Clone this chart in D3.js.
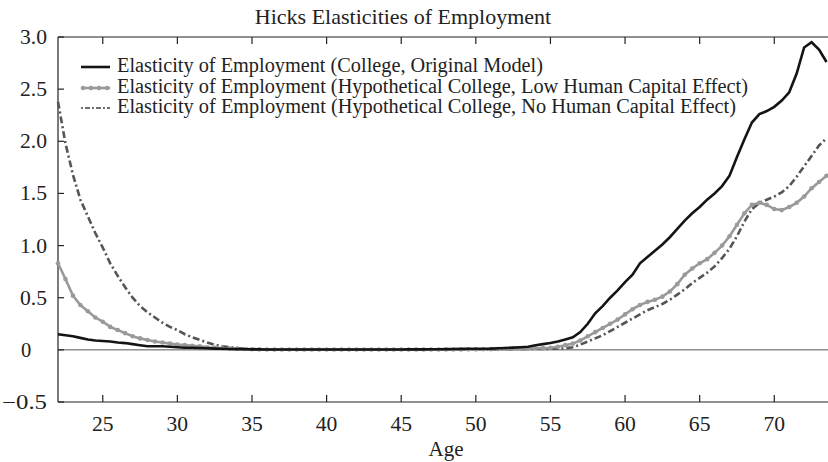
<!DOCTYPE html>
<html><head><meta charset="utf-8">
<script src="https://cdn.jsdelivr.net/npm/d3@7"></script>
<style>body{margin:0;background:#fff}svg{display:block}text{font-family:"Liberation Serif","Times New Roman",serif;fill:#222}</style>
</head><body><svg id="c" width="828" height="462"></svg>
<script>
const ages = [22,22.5,23,23.5,24,24.5,25,25.5,26,26.5,27,27.5,28,28.5,29,29.5,30,30.5,31,31.5,32,32.5,33,33.5,34,34.5,35,35.5,36,36.5,37,37.5,38,38.5,39,39.5,40,40.5,41,41.5,42,42.5,43,43.5,44,44.5,45,45.5,46,46.5,47,47.5,48,48.5,49,49.5,50,50.5,51,51.5,52,52.5,53,53.5,54,54.5,55,55.5,56,56.5,57,57.5,58,58.5,59,59.5,60,60.5,61,61.5,62,62.5,63,63.5,64,64.5,65,65.5,66,66.5,67,67.5,68,68.5,69,69.5,70,70.5,71,71.5,72,72.5,73,73.5];
const original = [0.15,0.14,0.13,0.115,0.10,0.09,0.085,0.08,0.07,0.065,0.055,0.045,0.035,0.035,0.035,0.03,0.025,0.02,0.02,0.018,0.015,0.012,0.01,0.008,0.007,0.006,0.005,0.005,0.004,0.004,0.004,0.004,0.004,0.004,0.004,0.004,0.004,0.004,0.004,0.004,0.004,0.004,0.004,0.004,0.004,0.004,0.004,0.005,0.005,0.005,0.006,0.006,0.007,0.008,0.009,0.01,0.01,0.011,0.012,0.015,0.018,0.021,0.025,0.03,0.045,0.055,0.065,0.08,0.10,0.12,0.17,0.25,0.35,0.42,0.50,0.57,0.65,0.72,0.83,0.89,0.95,1.01,1.08,1.16,1.24,1.31,1.37,1.44,1.50,1.57,1.67,1.85,2.02,2.18,2.26,2.29,2.33,2.39,2.47,2.65,2.90,2.95,2.88,2.76];
const lowHC = [0.83,0.68,0.52,0.43,0.37,0.31,0.27,0.22,0.19,0.16,0.13,0.11,0.095,0.08,0.07,0.06,0.05,0.045,0.04,0.035,0.025,0.02,0.015,0.012,0.01,0.008,0.006,0.005,0.004,0.004,0.003,0.003,0.003,0.003,0.003,0.003,0.003,0.003,0.003,0.003,0.003,0.003,0.003,0.003,0.003,0.003,0.003,0.003,0.003,0.003,0.003,0.003,0.004,0.004,0.004,0.005,0.005,0.006,0.007,0.008,0.01,0.011,0.012,0.013,0.015,0.017,0.02,0.03,0.045,0.06,0.09,0.13,0.17,0.21,0.25,0.29,0.34,0.39,0.43,0.46,0.48,0.51,0.56,0.63,0.72,0.78,0.83,0.87,0.93,1.00,1.09,1.20,1.31,1.39,1.41,1.39,1.35,1.34,1.37,1.41,1.47,1.55,1.61,1.67];
const noHC = [2.38,1.98,1.68,1.44,1.28,1.12,0.98,0.83,0.71,0.60,0.50,0.42,0.36,0.31,0.26,0.22,0.19,0.15,0.12,0.095,0.07,0.05,0.035,0.025,0.018,0.012,0.008,0.006,0.005,0.004,0.003,0.003,0.003,0.003,0.003,0.003,0.003,0.003,0.003,0.003,0.003,0.003,0.003,0.003,0.003,0.003,0.003,0.003,0.003,0.003,0.003,0.003,0.003,0.003,0.004,0.004,0.004,0.005,0.005,0.005,0.006,0.006,0.007,0.008,0.008,0.009,0.01,0.012,0.015,0.025,0.05,0.08,0.11,0.14,0.18,0.22,0.26,0.30,0.34,0.38,0.41,0.44,0.48,0.53,0.58,0.64,0.69,0.74,0.80,0.88,0.97,1.09,1.23,1.35,1.41,1.44,1.47,1.51,1.57,1.66,1.76,1.86,1.96,2.03];
const xTicks = [25,30,35,40,45,50,55,60,65,70];
const yTicks = [-0.5,0,0.5,1.0,1.5,2.0,2.5,3.0];
const yTickLabels = ["\u22120.5","0","0.5","1.0","1.5","2.0","2.5","3.0"];
const seriesNames = ["Elasticity of Employment (College, Original Model)","Elasticity of Employment (Hypothetical College, Low Human Capital Effect)","Elasticity of Employment (Hypothetical College, No Human Capital Effect)"];
const title = "Hicks Elasticities of Employment";
const xTitle = "Age";

const svg = d3.select("#c");
const L=58, R=828, T=37, B=402;
const x = d3.scaleLinear().domain([22,73.6]).range([L,R]);
const y = d3.scaleLinear().domain([-0.5,3.0]).range([B,T]);
const DASH = "7,3,2,3";

svg.append("text").attr("x",403).attr("y",24).attr("text-anchor","middle").attr("font-size",22).text(title);

// zero line
svg.append("line").attr("x1",L).attr("x2",R).attr("y1",y(0)).attr("y2",y(0)).attr("stroke","#555").attr("stroke-width",1);

// axes
const ax = svg.append("g").attr("stroke","#222").attr("stroke-width",1.2);
ax.append("line").attr("x1",L).attr("x2",L).attr("y1",T).attr("y2",B);
ax.append("line").attr("x1",L).attr("x2",R).attr("y1",B).attr("y2",B);
ax.append("line").attr("x1",L).attr("x2",R).attr("y1",T).attr("y2",T);
xTicks.forEach(t=>{
  ax.append("line").attr("x1",x(t)).attr("x2",x(t)).attr("y1",B).attr("y2",B-7);
  ax.append("line").attr("x1",x(t)).attr("x2",x(t)).attr("y1",T).attr("y2",T+7);
});
yTicks.forEach(t=>{ ax.append("line").attr("x1",L).attr("x2",L+6).attr("y1",y(t)).attr("y2",y(t)); });
svg.append("g").selectAll("text").data(xTicks).join("text")
  .attr("x",d=>x(d)).attr("y",B+29).attr("text-anchor","middle").attr("font-size",20)
  .attr("transform",d=>`translate(${x(d)},0) scale(1.08,1) translate(${-x(d)},0)`).text(d=>d);
const yl = svg.append("g").selectAll("text").data(yTicks).join("text")
  .attr("y",d=>y(d)+7).attr("font-size",20.5).text((d,i)=>yTickLabels[i]);
yl.each(function(d){
  const t=d3.select(this);
  if(d===0){ t.attr("x",21).attr("text-anchor","start"); }
  else if(d<0){ t.attr("x",47).attr("text-anchor","end").attr("textLength",45).attr("lengthAdjust","spacingAndGlyphs"); }
  else { t.attr("x",47).attr("text-anchor","end").attr("textLength",27).attr("lengthAdjust","spacingAndGlyphs"); }
});
svg.append("text").attr("x",446).attr("y",456).attr("text-anchor","middle").attr("font-size",21).text(xTitle);

const line = d3.line().x((d,i)=>x(ages[i])).y(d=>y(d)).curve(d3.curveLinear);
const g = svg.append("g");
g.append("path").attr("d",line(noHC)).attr("fill","none").attr("stroke","#555").attr("stroke-width",2.6).attr("stroke-dasharray",DASH);
g.append("path").attr("d",line(lowHC)).attr("fill","none").attr("stroke","#9a9a9a").attr("stroke-width",2.6);
g.append("g").selectAll("circle").data(lowHC).join("circle").attr("cx",(d,i)=>x(ages[i])).attr("cy",d=>y(d)).attr("r",2.3).attr("fill","#9a9a9a");
g.append("path").attr("d",line(original)).attr("fill","none").attr("stroke","#141414").attr("stroke-width",2.6);

// legend
const leg = svg.append("g");
const ly=[67,88,108];
const lw=[426,631,619];
leg.append("line").attr("x1",81).attr("x2",110).attr("y1",ly[0]).attr("y2",ly[0]).attr("stroke","#141414").attr("stroke-width",2.6);
leg.append("line").attr("x1",81).attr("x2",110).attr("y1",ly[1]).attr("y2",ly[1]).attr("stroke","#9a9a9a").attr("stroke-width",2.6);
[83,91,99,107].forEach(cx=>leg.append("circle").attr("cx",cx).attr("cy",ly[1]).attr("r",2.3).attr("fill","#9a9a9a"));
leg.append("line").attr("x1",81).attr("x2",110).attr("y1",ly[2]).attr("y2",ly[2]).attr("stroke","#707070").attr("stroke-width",2).attr("stroke-dasharray","2,2,5,2");
seriesNames.forEach((s,i)=>leg.append("text").attr("x",117).attr("y",ly[i]+4.5).attr("font-size",20)
  .attr("textLength",lw[i]).attr("lengthAdjust","spacingAndGlyphs").text(s));
</script></body></html>
